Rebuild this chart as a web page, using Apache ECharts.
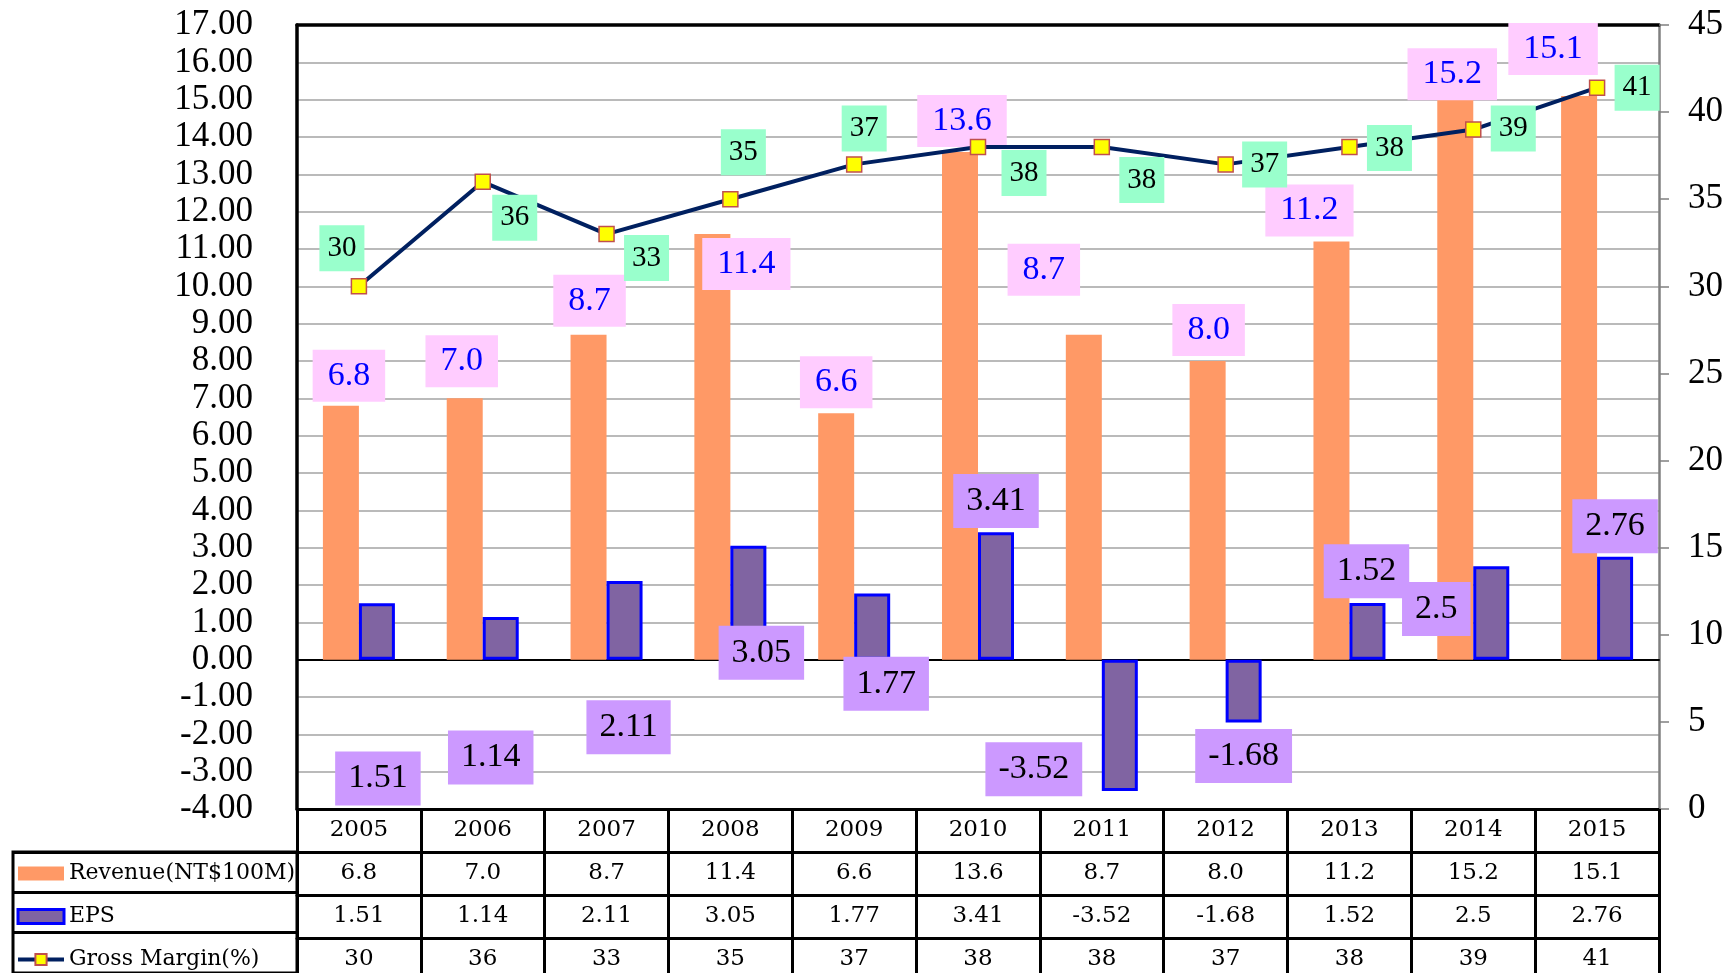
<!DOCTYPE html>
<html>
<head>
<meta charset="utf-8">
<script src="https://cdn.jsdelivr.net/npm/echarts@6/dist/echarts.min.js"></script>
<style>
  html, body { margin: 0; padding: 0; background: #fff; }
  #myChart { width: 1730px; height: 973px; }
</style>
</head>
<body>
<div id="myChart"></div>
<script>
  // values
  var years = ['2005', '2006', '2007', '2008', '2009', '2010', '2011', '2012', '2013', '2014', '2015'];
  var revenue = [6.8, 7.0, 8.7, 11.4, 6.6, 13.6, 8.7, 8.0, 11.2, 15.2, 15.1];
  var eps = [1.51, 1.14, 2.11, 3.05, 1.77, 3.41, -3.52, -1.68, 1.52, 2.5, 2.76];
  var grossMargin = [30, 36, 33, 35, 37, 38, 38, 37, 38, 39, 41.4];
  var seriesNames = ['Revenue(NT$100M)', 'EPS', 'Gross Margin(%)'];
  var leftAxisRange = [-4, 17, 1];
  var rightAxisRange = [0, 45, 5];

  // hand placed label nudges (px), as in the original sheet
  var revNudge = [[8,1],[-3,-6],[1,-3],[34,61],[0,0],[2,0],[-40,-34],[1,0],[-22,0],[-3,13],[-26,-16]];
  var epsNudge = [[1,147],[-10,119],[4,107],[13,50],[14,57],[0,-95],[-86,44],[0,65],[-1,-60],[-55,-4],[0,-82]];
  var gmNudge = [[-17,-38],[32,36],[40,24],[13,-47],[10,-36],[46,26],[40,33],[39,0],[40,1],[40,-1],[40,0]];

  var serif = 'Liberation Serif';
  var tableFont = 'DejaVu Serif';
  var rowH = 43;

  function tableRow(offset, textFn) {
    return {
      type: 'category', gridIndex: 0, data: years, position: 'bottom', offset: offset,
      axisLine: { onZero: false, lineStyle: { color: '#000', width: 3 } },
      axisTick: { show: true, interval: 0, length: rowH, lineStyle: { color: '#000', width: 3 } },
      axisLabel: {
        interval: 0, margin: rowH / 2, verticalAlign: 'middle',
        fontFamily: tableFont, fontSize: 23, color: '#000',
        formatter: function (v, i) { return textFn(i); }
      }
    };
  }

  var myChart = echarts.init(document.getElementById('myChart'));
  var option = {
    animation: false,
    backgroundColor: '#fff',
    grid: [
      { left: 297, right: 71, top: 25, bottom: 164 },
      { left: 13, top: 852, width: 284, height: 130, show: true, borderColor: '#000', borderWidth: 3 }
    ],
    legend: {
      orient: 'vertical', left: 16, top: 852, height: 160, padding: 0, itemGap: 0,
      itemWidth: 46, itemHeight: 14, selectedMode: false,
      textStyle: { fontFamily: tableFont, fontSize: 22, color: '#000', lineHeight: rowH },
      data: [
        { name: seriesNames[0], icon: 'rect' },
        { name: seriesNames[1], icon: 'rect', itemStyle: { borderColor: '#0000ff', borderWidth: 3 } },
        { name: seriesNames[2], lineStyle: { color: '#002060', width: 4 } }
      ]
    },
    xAxis: [
      { // zero line
        type: 'category', gridIndex: 0, data: years, position: 'bottom',
        axisLine: { onZero: true, onZeroAxisIndex: 0, lineStyle: { color: '#000', width: 2 } },
        axisTick: { show: false }, axisLabel: { show: false }
      },
      { // top border
        type: 'category', gridIndex: 0, data: years, position: 'top',
        axisLine: { onZero: false, lineStyle: { color: '#000', width: 3.5 } },
        axisTick: { show: false }, axisLabel: { show: false }
      },
      tableRow(0, function (i) { return years[i]; }),
      tableRow(rowH, function (i) { return revenue[i].toFixed(1); }),
      tableRow(rowH * 2, function (i) { return String(eps[i]); }),
      tableRow(rowH * 3, function (i) { return String(Math.round(grossMargin[i])); }),
      { type: 'value', gridIndex: 1, show: false }
    ],
    yAxis: [
      {
        type: 'value', gridIndex: 0, position: 'left',
        min: leftAxisRange[0], max: leftAxisRange[1], interval: leftAxisRange[2],
        axisLine: { show: true, lineStyle: { color: '#000', width: 3.5 } },
        axisTick: { show: false },
        axisLabel: {
          margin: 44, fontFamily: serif, fontSize: 35, color: '#000',
          formatter: function (v) { return v.toFixed(2); }
        },
        splitLine: { show: true, lineStyle: { color: '#a3a3a3', width: 1.5 } }
      },
      {
        type: 'value', gridIndex: 0, position: 'right',
        min: rightAxisRange[0], max: rightAxisRange[1], interval: rightAxisRange[2],
        axisLine: { show: true, lineStyle: { color: '#808080', width: 2.5 } },
        axisTick: { show: true, length: 10, lineStyle: { color: '#808080', width: 1.5 } },
        axisLabel: { margin: 29, fontFamily: serif, fontSize: 35, color: '#000' },
        splitLine: { show: false }
      },
      {
        type: 'category', gridIndex: 1, inverse: true, data: seriesNames,
        axisLine: { show: false }, axisTick: { show: false }, axisLabel: { show: false },
        splitLine: { show: true, interval: 0, lineStyle: { color: '#000', width: 3 } }
      }
    ],
    series: [
      {
        name: seriesNames[0], type: 'bar', xAxisIndex: 0, yAxisIndex: 0,
        barWidth: 36, barGap: '0%',
        itemStyle: { color: '#ff9966' },
        label: {
          show: true, position: 'top', distance: 5,
          fontFamily: serif, fontSize: 34, lineHeight: 38, color: '#0000ff',
          backgroundColor: '#ffccff', padding: [7, 15],
          formatter: function (p) { return p.value.toFixed(1); }
        },
        data: revenue.map(function (v, i) { return { value: v, label: { offset: revNudge[i] } }; })
      },
      {
        name: seriesNames[1], type: 'bar', xAxisIndex: 0, yAxisIndex: 0,
        barWidth: 36, barGap: '0%',
        itemStyle: { color: '#8064a2', borderColor: '#0000ff', borderWidth: 3 },
        label: {
          show: true, position: 'inside',
          fontFamily: serif, fontSize: 34, lineHeight: 38, color: '#000',
          backgroundColor: '#cc99ff', padding: [8, 13],
          formatter: function (p) { return String(p.value); }
        },
        data: eps.map(function (v, i) { return { value: v, label: { offset: epsNudge[i] } }; })
      },
      {
        name: seriesNames[2], type: 'line', xAxisIndex: 0, yAxisIndex: 1,
        symbol: 'rect', symbolSize: 15,
        lineStyle: { color: '#002060', width: 4 },
        itemStyle: { color: '#ffff00', borderColor: '#c0504d', borderWidth: 1.5 },
        label: {
          show: true, position: 'inside',
          fontFamily: serif, fontSize: 29, lineHeight: 34, color: '#000',
          backgroundColor: '#99ffcc', padding: [6, 8],
          formatter: function (p) { return String(Math.round(p.value)); }
        },
        data: grossMargin.map(function (v, i) { return { value: v, label: { offset: gmNudge[i] } }; })
      }
    ]
  };
  myChart.setOption(option);
</script>
</body>
</html>
